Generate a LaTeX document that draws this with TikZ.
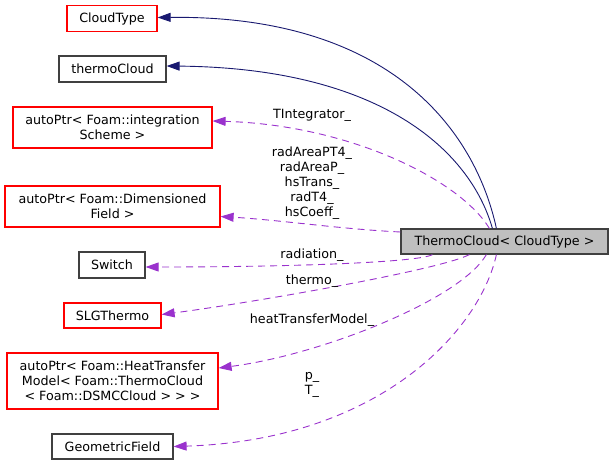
\documentclass[tikz,border=0pt]{standalone}
\usepackage{fontspec}
\setmainfont{DejaVu Sans}
\usetikzlibrary{arrows.meta}
\definecolor{edgeblue}{HTML}{191970}
\definecolor{edgepurple}{HTML}{9A32CD}
\definecolor{boxgray}{HTML}{BFBFBF}
\definecolor{boxred}{HTML}{FF0000}
\definecolor{boxdark}{HTML}{404040}
\begin{document}
\begin{tikzpicture}[x=1pt,y=-1pt,
  font=\fontsize{12.7}{15}\selectfont,
  box/.style={draw, line width=1.2pt, inner sep=0pt, align=center},
  redbox/.style={box, draw=boxred},
  blackbox/.style={box, draw=boxdark},
  mainbox/.style={box, draw=boxdark, fill=boxgray},
  inherit/.style={draw=edgeblue, line width=0.9pt, -{Triangle[length=13pt,width=9pt]}},
  member/.style={draw=edgepurple, line width=0.9pt, dash pattern=on 7pt off 5pt, -{Triangle[length=13pt,width=9pt]}},
  elabel/.style={inner sep=0pt, align=center}
]
\useasboundingbox (0,0) rectangle (613,465);

\node[mainbox, minimum width=207pt, minimum height=25pt] (tc) at (504.5,241.5) {ThermoCloud< CloudType >};

\node[redbox, minimum width=90pt, minimum height=26pt] (cloudtype) at (112,18.5) {CloudType};
\node[blackbox, minimum width=107pt, minimum height=26pt] (thc) at (112.5,69) {thermoCloud};
\node[redbox, minimum width=199pt, minimum height=41pt] (integ) at (112.5,127.5) {autoPtr< Foam::integration\\Scheme >};
\node[redbox, minimum width=215pt, minimum height=41pt] (dimf) at (112.5,206.5) {autoPtr< Foam::Dimensioned\\Field >};
\node[blackbox, minimum width=66pt, minimum height=26pt] (sw) at (112,265) {Switch};
\node[redbox, minimum width=97pt, minimum height=25pt] (slg) at (112.5,315.5) {SLGThermo};
\node[redbox, minimum width=211pt, minimum height=56pt] (heat) at (112.5,381) {autoPtr< Foam::HeatTransfer\\Model< Foam::ThermoCloud\\< Foam::DSMCCloud > > >};
\node[blackbox, minimum width=121pt, minimum height=25pt] (geo) at (112.5,446.5) {GeometricField};

% inheritance
\draw[inherit] ([xshift=96pt]tc.north west) .. controls (475,130) and (390,15) .. ([yshift=1pt]cloudtype.east);
\draw[inherit] ([xshift=92pt]tc.north west) .. controls (470,150) and (380,68) .. ([yshift=3pt]thc.east);

% members
\draw[member] ([xshift=89pt]tc.north west) .. controls (460,180) and (350,125) .. ([yshift=6.5pt]integ.east);
\draw[member] ([yshift=9.5pt]tc.west) .. controls (340,229) and (280,220) .. ([yshift=-10pt]dimf.east);
\draw[member] ([xshift=32pt]tc.south west) .. controls (420,262) and (300,267) .. ([yshift=-2pt]sw.east);
\draw[member] ([xshift=69pt]tc.south west) .. controls (440,270) and (250,303) .. ([yshift=1pt]slg.east);
\draw[member] ([xshift=86pt]tc.south west) .. controls (460,300) and (320,355) .. ([yshift=13pt]heat.east);
\draw[member] ([xshift=96pt]tc.south west) .. controls (480,330) and (380,440) .. (geo.east);

% labels
\node[elabel] (lint) at (312,115) {TIntegrator\_};
\node[elabel] (ldim) at (312,183) {radAreaPT4\_\\radAreaP\_\\hsTrans\_\\radT4\_\\hsCoeff\_};
\node[elabel] (lrad) at (312,255) {radiation\_};
\node[elabel] (lthe) at (312,281) {thermo\_};
\node[elabel] (lheat) at (312,320) {heatTransferModel\_};
\node[elabel] (lpt) at (312,385) {p\_\\T\_};
\end{tikzpicture}
\end{document}
